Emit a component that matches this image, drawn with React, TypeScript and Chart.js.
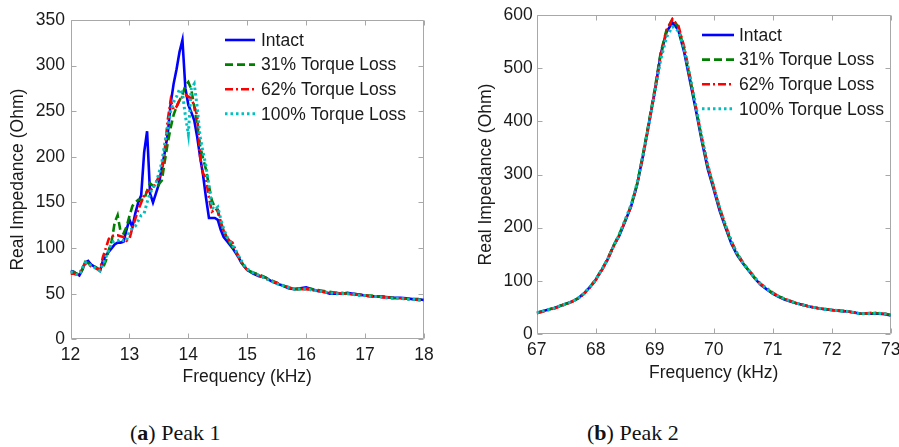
import React, { useEffect, useRef } from 'react';
import { Chart, registerables } from 'chart.js';

Chart.register(...registerables);

const SERIES_NAMES = ['Intact', '31% Torque Loss', '62% Torque Loss', '100% Torque Loss'];

// ---- Peak 1 (12-18 kHz) ----
const freqA = [
  12.00, 12.05, 12.10, 12.15, 12.20, 12.25, 12.30, 12.35, 12.40, 12.45,
  12.50, 12.55, 12.60, 12.65, 12.70, 12.75, 12.80, 12.85, 12.90, 12.95,
  13.00, 13.05, 13.10, 13.15, 13.20, 13.25, 13.30, 13.35, 13.40, 13.45,
  13.50, 13.55, 13.60, 13.65, 13.70, 13.75, 13.80, 13.85, 13.90, 13.95,
  14.00, 14.05, 14.10, 14.15, 14.20, 14.25, 14.30, 14.35, 14.40, 14.45,
  14.50, 14.55, 14.60, 14.65, 14.70, 14.75, 14.80, 14.85, 14.90, 14.95,
  15.00, 15.1, 15.2, 15.3, 15.4, 15.5, 15.6, 15.7, 15.8, 15.9,
  16.0, 16.1, 16.2, 16.3, 16.4, 16.5, 16.6, 16.7, 16.8, 16.9,
  17.0, 17.1, 17.2, 17.3, 17.4, 17.5, 17.6, 17.7, 17.8, 17.9, 18.0,
];
const intactA = [
  75, 74, 72, 70, 76, 84, 86, 82, 80, 78,
  75, 86, 92, 96, 100, 104, 106, 106, 107, 120,
  131, 123, 138, 150, 158, 205, 228, 160, 150, 160,
  170, 188, 205, 225, 258, 280, 296, 315, 328, 275,
  257, 249, 240, 222, 200, 180, 155, 133, 133, 133,
  131, 120, 112, 108, 104, 100, 95, 90, 84, 80,
  76, 72, 69, 68, 64, 61, 59, 56, 55, 56,
  57, 55, 53, 52, 50, 50, 50, 51, 50, 49,
  48, 47, 47, 46.5, 46, 45.5, 45.5, 45, 44, 44, 43,
];
const loss31A = [
  73, 74, 72, 70, 77, 85, 84, 80, 80, 78,
  76, 78, 86, 98, 108, 128, 136, 118, 116, 123,
  135, 146, 150, 153, 153, 153, 163, 171, 168, 166,
  170, 174, 195, 215, 232, 246, 255, 262, 268, 278,
  282, 274, 255, 235, 212, 198, 186, 168, 152, 145,
  140, 128, 119, 112, 106, 101, 96, 91, 85, 80,
  76, 73, 71, 68, 65, 62, 59, 57, 55, 55,
  56, 55, 54, 53, 52, 51, 51, 50, 50, 49,
  48, 48, 47, 47, 46, 45, 45, 44.5, 44, 43.5, 43,
];
const loss62A = [
  72, 72, 71, 72, 78, 84, 83, 80, 79, 77,
  76, 90, 100, 110, 113, 114, 114, 113, 112, 108,
  110, 122, 132, 142, 150, 158, 162, 163, 166, 172,
  178, 182, 208, 240, 262, 252, 255, 262, 266, 268,
  266, 264, 256, 245, 200, 182, 176, 155, 140, 142,
  142, 128, 119, 112, 108, 106, 98, 91, 85, 80,
  76, 73, 70, 67, 64, 62, 59, 57, 55, 55,
  55, 54, 53, 52, 51, 51, 50, 50, 49, 49,
  48, 47, 47, 46, 46, 45, 45, 44, 44, 43, 43,
];
const loss100A = [
  74, 73, 71, 71, 77, 84, 84, 80, 79, 77,
  75, 82, 90, 98, 106, 108, 108, 110, 108, 108,
  118, 122, 124, 130, 136, 138, 150, 160, 166, 171,
  182, 194, 215, 232, 250, 260, 266, 274, 270, 245,
  225, 275, 280, 255, 222, 205, 190, 168, 145, 142,
  145, 132, 121, 113, 108, 103, 98, 92, 86, 81,
  77, 73, 70, 67, 64, 61, 59, 57, 55, 55,
  55, 54, 53, 52, 51, 50, 50, 50, 49, 48,
  48, 47, 47, 46, 45, 45, 45, 44, 44, 43, 43,
];
const xTicksA = [12, 18, 1];
const yTicksA = [0, 350, 50];

// ---- Peak 2 (67-73 kHz) ----
const freqB = [
  67.0, 67.1, 67.2, 67.3, 67.4, 67.5, 67.6, 67.7, 67.8, 67.9,
  68.0, 68.1, 68.2, 68.3, 68.4, 68.5, 68.6, 68.7, 68.8, 68.9,
  69.0, 69.1, 69.2, 69.3, 69.4, 69.5, 69.6, 69.7, 69.8, 69.9,
  70.0, 70.1, 70.2, 70.3, 70.4, 70.5, 70.6, 70.7, 70.8, 70.9,
  71.0, 71.1, 71.2, 71.3, 71.4, 71.5, 71.6, 71.7, 71.8, 71.9,
  72.0, 72.1, 72.2, 72.3, 72.4, 72.5, 72.6, 72.7, 72.8, 72.9, 73.0,
];
const intactB = [
  40, 43, 46, 49, 53, 57, 61, 67, 76, 88,
  102, 120, 140, 165, 185, 212, 240, 280, 335, 395,
  455, 525, 568, 586, 572, 530, 475, 420, 362, 310,
  272, 232, 200, 170, 148, 132, 118, 104, 92, 84,
  76, 70, 65, 61, 58, 55, 52, 50, 48, 46,
  45, 44, 43, 42, 40, 38, 38, 38, 38, 37, 35,
];
const loss31B = [
  40, 43, 46, 49, 53, 57, 61, 67, 76, 88,
  103, 121, 141, 166, 188, 214, 242, 282, 337, 398,
  460, 528, 572, 592, 578, 535, 480, 424, 366, 314,
  275, 236, 202, 172, 150, 133, 119, 105, 93, 85,
  77, 71, 66, 62, 58, 55, 52, 50, 48, 47,
  45, 44, 43, 42, 40, 38, 38, 39, 39, 38, 36,
];
const loss62B = [
  39, 42, 45, 48, 52, 56, 61, 67, 75, 87,
  101, 119, 139, 164, 186, 213, 240, 280, 333, 393,
  455, 522, 570, 592, 580, 540, 482, 425, 368, 316,
  277, 237, 205, 175, 151, 134, 120, 106, 94, 86,
  78, 71, 66, 62, 58, 55, 52, 50, 48, 47,
  45, 44, 43, 42, 40, 38, 39, 40, 39, 38, 36,
];
const loss100B = [
  40, 43, 46, 49, 53, 57, 61, 67, 76, 88,
  102, 120, 140, 164, 187, 215, 243, 283, 336, 394,
  452, 515, 558, 578, 570, 536, 484, 428, 370, 318,
  278, 238, 205, 174, 151, 133, 119, 105, 93, 85,
  77, 71, 66, 62, 58, 55, 52, 50, 48, 46,
  45, 44, 43, 42, 40, 38, 38, 39, 39, 38, 36,
];
const xTicksB = [67, 73, 1];
const yTicksB = [0, 600, 100];

const FONT = "'Liberation Sans', Arial, sans-serif";
const TEXT = '#1a1a1a';
const STYLES = [
  { color: '#0000ff', dash: [] as number[], width: 2.6, order: 3 },
  { color: '#008000', dash: [8, 4], width: 2.6, order: 2 },
  { color: '#ff0000', dash: [8, 3, 2, 3], width: 2.6, order: 1 },
  { color: '#00c0c0', dash: [2.5, 3], width: 3, order: 0 },
];

const framePlugin = {
  id: 'frame',
  beforeDatasetsDraw(chart: any) {
    const { ctx, chartArea: a } = chart;
    const xs = chart.scales.x;
    const ys = chart.scales.y;
    const L = 5;
    ctx.save();
    ctx.strokeStyle = '#a8a8a8';
    ctx.lineWidth = 1;
    const l = Math.round(a.left) + 0.5;
    const r = Math.round(a.right) - 0.5;
    const t = Math.round(a.top) + 0.5;
    const b = Math.round(a.bottom) - 0.5;
    ctx.beginPath();
    ctx.rect(l, t, r - l, b - t);
    xs.ticks.forEach((tk: any) => {
      const x = Math.round(xs.getPixelForValue(tk.value)) + 0.5;
      ctx.moveTo(x, b); ctx.lineTo(x, b - L);
      ctx.moveTo(x, t); ctx.lineTo(x, t + L);
    });
    ys.ticks.forEach((tk: any) => {
      const y = Math.round(ys.getPixelForValue(tk.value)) + 0.5;
      ctx.moveTo(l, y); ctx.lineTo(l + L, y);
      ctx.moveTo(r, y); ctx.lineTo(r - L, y);
    });
    ctx.stroke();
    ctx.restore();
  },
  afterDraw(chart: any, _args: any, opts: any) {
    const { ctx, chartArea: a } = chart;
    ctx.save();
    chart.data.datasets.forEach((ds: any, i: number) => {
      const y = a.top + opts.top + i * opts.rowH;
      const x0 = a.right - opts.fromRight;
      ctx.strokeStyle = ds.borderColor;
      ctx.lineWidth = ds.borderWidth;
      ctx.setLineDash(ds.borderDash || []);
      ctx.beginPath();
      ctx.moveTo(x0, y);
      ctx.lineTo(x0 + opts.lineLen, y);
      ctx.stroke();
      ctx.setLineDash([]);
      ctx.fillStyle = TEXT;
      ctx.font = `17.5px ${FONT}`;
      ctx.textBaseline = 'middle';
      ctx.textAlign = 'left';
      ctx.fillText(ds.label, x0 + opts.lineLen + opts.gap, y + 1);
    });
    ctx.restore();
  },
};

function makeDatasets(freq: number[], series: number[][]) {
  return series.map((vals, i) => ({
    label: SERIES_NAMES[i],
    data: freq.map((f, k) => ({ x: f, y: vals[k] })),
    borderColor: STYLES[i].color,
    borderWidth: STYLES[i].width,
    borderDash: STYLES[i].dash,
    order: STYLES[i].order,
    pointRadius: 0,
    fill: false,
    tension: 0,
  }));
}

type PanelProps = {
  left: number;
  width: number;
  height: number;
  freq: number[];
  series: number[][];
  xTicks: number[];
  yTicks: number[];
  pad: { top: number; right: number };
  yAxisW: number;
  xAxisH: number;
  yTitlePad: number;
  xTitlePad: number;
  xTickPad: number;
  yTickPad: number;
  legend: { top: number; rowH: number; fromRight: number; lineLen: number; gap: number };
};

function Panel(p: PanelProps) {
  const ref = useRef<HTMLCanvasElement>(null);
  useEffect(() => {
    if (!ref.current) return;
    const font = { family: FONT, size: 17.5 };
    const chart = new Chart(ref.current, {
      type: 'line',
      data: { datasets: makeDatasets(p.freq, p.series) as any },
      plugins: [framePlugin as any],
      options: {
        animation: false,
        responsive: false,
        devicePixelRatio: 1,
        layout: { padding: { top: p.pad.top, right: p.pad.right, left: 0, bottom: 0 } },
        plugins: {
          legend: { display: false },
          tooltip: { enabled: false },
          frame: p.legend,
        } as any,
        scales: {
          x: {
            type: 'linear',
            min: p.xTicks[0],
            max: p.xTicks[1],
            ticks: { stepSize: p.xTicks[2], padding: p.xTickPad, color: TEXT, font, maxRotation: 0 },
            grid: { display: false, drawTicks: false },
            border: { display: false },
            title: { display: true, text: 'Frequency (kHz)', color: TEXT, font, padding: { top: 0, bottom: p.xTitlePad } },
            afterFit: (s: any) => { s.height = p.xAxisH; s.paddingLeft = 0; s.paddingRight = 0; },
          },
          y: {
            type: 'linear',
            min: p.yTicks[0],
            max: p.yTicks[1],
            ticks: { stepSize: p.yTicks[2], padding: p.yTickPad, color: TEXT, font },
            grid: { display: false, drawTicks: false },
            border: { display: false },
            title: { display: true, text: 'Real Impedance (Ohm)', color: TEXT, font, padding: { top: p.yTitlePad, bottom: 0 } },
            afterFit: (s: any) => { s.width = p.yAxisW; s.paddingTop = 0; s.paddingBottom = 0; },
          },
        },
      } as any,
    });
    return () => chart.destroy();
  }, []);
  return (
    <canvas
      ref={ref}
      width={p.width}
      height={p.height}
      style={{ position: 'absolute', left: p.left, top: 0, width: p.width, height: p.height }}
    />
  );
}

const captionStyle: React.CSSProperties = {
  position: 'absolute',
  top: 420,
  fontFamily: "'Liberation Serif', 'DejaVu Serif', serif",
  fontSize: 22,
  lineHeight: '26px',
  color: '#111',
  whiteSpace: 'nowrap',
};

export default function App() {
  return (
    <div style={{ position: 'fixed', left: 0, top: 0, width: 899, height: 447, background: '#fff', overflow: 'hidden' }}>
      <Panel
        left={0}
        width={450}
        height={400}
        freq={freqA}
        series={[intactA, loss31A, loss62A, loss100A]}
        xTicks={xTicksA}
        yTicks={yTicksA}
        pad={{ top: 20, right: 26 }}
        yAxisW={70.5}
        xAxisH={60.7}
        yTitlePad={7.5}
        xTitlePad={12.5}
        xTickPad={5.2}
        yTickPad={5.5}
        legend={{ top: 20, rowH: 24.6, fromRight: 199, lineLen: 30, gap: 6 }}
      />
      <Panel
        left={460}
        width={439}
        height={400}
        freq={freqB}
        series={[intactB, loss31B, loss62B, loss100B]}
        xTicks={xTicksB}
        yTicks={yTicksB}
        pad={{ top: 15, right: 8.3 }}
        yAxisW={76.7}
        xAxisH={66}
        yTitlePad={15.5}
        xTitlePad={16.2}
        xTickPad={5.5}
        yTickPad={4}
        legend={{ top: 20, rowH: 24.6, fromRight: 188.7, lineLen: 32, gap: 5 }}
      />
      <div style={{ ...captionStyle, left: 130 }}>(<b>a</b>) Peak 1</div>
      <div style={{ ...captionStyle, left: 587 }}>(<b>b</b>) Peak 2</div>
    </div>
  );
}
